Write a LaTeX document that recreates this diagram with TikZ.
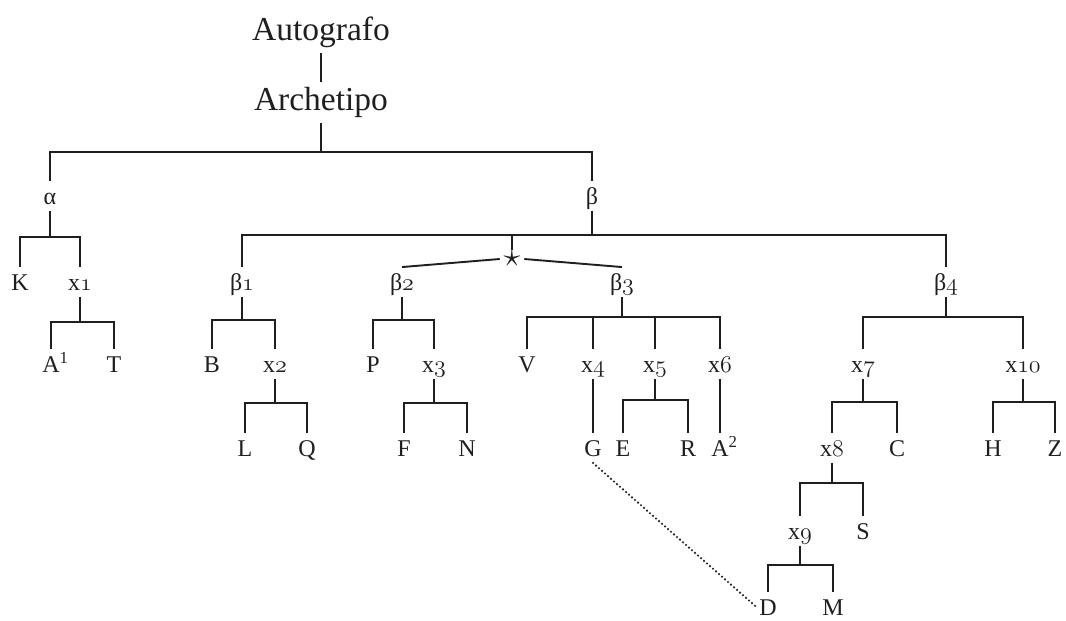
\RequirePackage{fix-cm}
\documentclass[tikz,border=0pt]{standalone}
\usepackage{fontspec}
\setmainfont{Liberation Serif}
\usetikzlibrary{calc}
\newcommand\osn[1]{{\usefont{OML}{cmm}{m}{it}#1}}
\newcommand\fork[3]{%
  \coordinate (jy) at (0,#2);
  \foreach \c in {#3}{\draw (#1.south) -- (#1.south |- jy) -| (\c.north);}}
\begin{document}
\begin{tikzpicture}[x=1pt,y=-1pt,line width=1.9pt,color=black!88,
  lbl/.style={anchor=base,inner xsep=2pt,inner ysep=6pt,text height=16pt,text depth=0pt,font=\fontsize{24}{24}\selectfont},
  big/.style={anchor=base,inner xsep=0pt,inner ysep=5.5pt,text height=22pt,text depth=7pt,font=\fontsize{33.5}{33.5}\selectfont},
  starnode/.style={inner xsep=3pt,inner ysep=0pt,font=\fontsize{34}{34}\selectfont},
  dots/.style={line width=2.4pt,line cap=round,dash pattern=on 0pt off 4pt}]
\useasboundingbox (0,0) rectangle (1066,621);
% top
\node[big] (aut) at (321,40) {Autografo};
\node[big] (arc) at (321,110) {Archetipo};
% row 1
\node[lbl] (al) at (50,204) {α};
\node[lbl] (be) at (592,204) {β};
% row 2
\node[lbl] (K)  at (20,290) {K};
\node[lbl] (x1) at (80,290) {x\osn{1}};
\node[lbl] (b1) at (242,290) {β\osn{1}};
\node[lbl] (b2) at (402,290) {β\osn{2}};
\node[lbl] (b3) at (622,290) {β\osn{3}};
\node[lbl] (b4) at (946,290) {β\osn{4}};
\node[starnode] (star) at (512,259) {$\star$};
% row 3
\node[lbl] (A1) at (51,372) {A\rlap{\textsuperscript{1}}};
\node[lbl] (T)  at (114,372) {T};
\node[lbl] (B)  at (212,372) {B};
\node[lbl] (x2) at (275,372) {x\osn{2}};
\node[lbl] (P)  at (373,372) {P};
\node[lbl] (x3) at (434,372) {x\osn{3}};
\node[lbl] (V)  at (527,372) {V};
\node[lbl] (x4) at (593,372) {x\osn{4}};
\node[lbl] (x5) at (655,372) {x\osn{5}};
\node[lbl] (x6) at (720,372) {x\osn{6}};
\node[lbl] (x7) at (863,372) {x\osn{7}};
\node[lbl] (x10) at (1023,372) {x\osn{10}};
% row 4
\node[lbl] (L)  at (245,456) {L};
\node[lbl] (Q)  at (307,456) {Q};
\node[lbl] (F)  at (404,456) {F};
\node[lbl] (N)  at (467,456) {N};
\node[lbl] (G)  at (593,456) {G};
\node[lbl] (E)  at (623,456) {E};
\node[lbl] (R)  at (688,456) {R};
\node[lbl] (A2) at (720,456) {A\rlap{\textsuperscript{2}}};
\node[lbl] (x8) at (832,456) {x\osn{8}};
\node[lbl] (C)  at (897,456) {C};
\node[lbl] (H)  at (993,456) {H};
\node[lbl] (Z)  at (1055,456) {Z};
% row 5
\node[lbl] (x9) at (800,539) {x\osn{9}};
\node[lbl] (S)  at (863,539) {S};
% row 6
\node[lbl] (D)  at (768,615) {D};
\node[lbl] (M)  at (833,615) {M};
% connectors
\draw (aut.south) -- (arc.north);
\fork{arc}{152}{al,be}
\fork{al}{237}{K,x1}
\fork{be}{235}{b1,b4}
\coordinate (bj) at (0,235);
\draw (star.north) -- (star.north |- bj);
\draw (star.west) -- (b2.north);
\draw (star.east) -- (b3.north);
\fork{x1}{322}{A1,T}
\fork{b1}{320}{B,x2}
\fork{x2}{403}{L,Q}
\fork{b2}{320}{P,x3}
\fork{x3}{403}{F,N}
\fork{b3}{317}{V,x4,x5,x6}
\draw (x4.south) -- (G.north);
\fork{x5}{400}{E,R}
\draw (x6.south) -- (A2.north);
\fork{b4}{317}{x7,x10}
\fork{x7}{402}{x8,C}
\fork{x10}{402}{H,Z}
\fork{x8}{483}{x9,S}
\fork{x9}{565}{D,M}
\draw[dots] (G.south) -- (D.west);
\end{tikzpicture}
\end{document}
